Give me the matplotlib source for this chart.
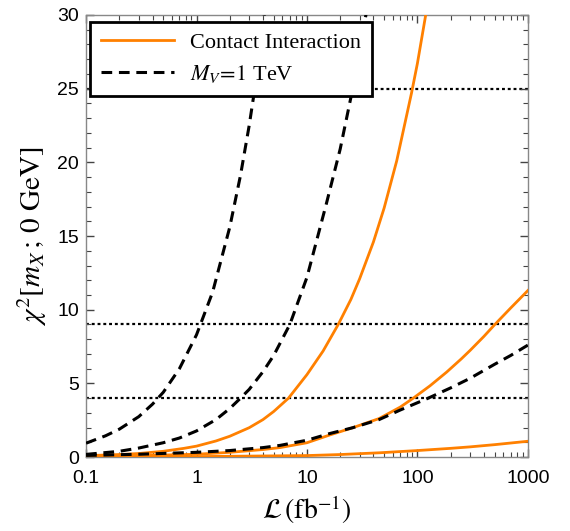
import numpy as np
import matplotlib
matplotlib.use('Agg')
import matplotlib.pyplot as plt
from matplotlib.ticker import MultipleLocator, LogLocator, NullFormatter

plt.rcParams['mathtext.fontset'] = 'stix'
plt.rcParams['font.family'] = ['Liberation Serif', 'DejaVu Serif']

# values
# contact interaction (orange, solid)
ci_hi_L = [0.1, 0.2, 0.3, 0.5, 0.77, 1.0, 1.5, 2.0, 3.0, 4.0, 5.0, 6.8, 10.0, 14.0,
           19.2, 25.0, 30.0, 40.0, 50.0, 65.0, 88.5, 100.0, 119.0]
ci_hi_chi = [0.1, 0.18, 0.25, 0.4, 0.6, 0.75, 1.1, 1.42, 2.0, 2.55, 3.1, 4.0, 5.6, 7.2,
             9.0, 10.7, 12.1, 14.6, 16.9, 20.1, 24.7, 26.7, 30.0]
ci_mid_L = [0.1, 0.3, 1.0, 2.0, 4.0, 5.7, 10.0, 16.0, 26.0, 45.0, 70.0, 91.6,
            130.0, 184.0, 250.0, 300.0, 400.0, 500.0, 700.0, 1000.0]
ci_mid_chi = [0.05, 0.1, 0.2, 0.33, 0.52, 0.65, 0.98, 1.5, 2.0, 2.62, 3.4, 4.0,
              4.84, 5.77, 6.67, 7.24, 8.19, 8.98, 10.12, 11.3]
ci_lo_L = [0.1, 1.0, 10.0, 20.0, 45.8, 100.0, 200.0, 300.0, 500.0, 1000.0]
ci_lo_chi = [0.02, 0.04, 0.11, 0.18, 0.3, 0.45, 0.6, 0.7, 0.85, 1.08]

# M_V = 1 TeV (black, dashed)
mv_a_L = [0.1, 0.15, 0.2, 0.3, 0.4, 0.5, 0.7, 1.0, 1.4, 2.0, 2.5, 3.0, 3.5, 4.1]
mv_a_chi = [0.95, 1.45, 1.9, 2.75, 3.6, 4.4, 6.0, 8.3, 11.2, 15.6, 19.1, 22.5, 25.8, 30.0]
mv_b_L = [0.1, 0.2, 0.3, 0.5, 0.7, 1.0, 1.5, 2.0, 2.5, 3.0, 4.0, 5.0, 7.0, 10.0,
          15.0, 20.0, 25.0, 30.0, 34.2]
mv_b_chi = [0.19, 0.4, 0.62, 0.98, 1.3, 1.78, 2.55, 3.3, 4.0, 4.6, 5.8, 6.9, 9.0, 12.2,
            17.2, 20.9, 24.4, 27.5, 30.0]
mv_c_L = [0.1, 0.3, 1.0, 2.0, 4.0, 5.7, 10.0, 16.0, 26.0, 45.0, 70.0, 125.0,
          200.0, 300.0, 500.0, 700.0, 1000.0]
mv_c_chi = [0.12, 0.2, 0.33, 0.45, 0.65, 0.8, 1.15, 1.6, 2.0, 2.55, 3.2, 4.0,
            4.7, 5.35, 6.3, 6.9, 7.6]

levels = [4, 9, 25]

orange = '#ff8000'
dash = (0, (3.5, 2.2))

fig = plt.figure(figsize=(5.7, 5.31), dpi=100)
ax = fig.add_axes([0.151, 0.139, 0.775, 0.833])

for lv in levels:
    ax.axhline(lv, color='black', lw=1.6, ls=(0, (1.3, 1.3)), zorder=1)

ax.plot(ci_hi_L, ci_hi_chi, color=orange, lw=2.0, label='Contact Interaction', zorder=3)
ax.plot(ci_mid_L, ci_mid_chi, color=orange, lw=2.0, zorder=3)
ax.plot(ci_lo_L, ci_lo_chi, color=orange, lw=2.0, zorder=3)

ax.plot(mv_a_L, mv_a_chi, color='black', lw=2.2, ls=dash, label=r'$M_V\!=\!1$ TeV', zorder=4)
ax.plot(mv_b_L, mv_b_chi, color='black', lw=2.2, ls=dash, zorder=4)
ax.plot(mv_c_L, mv_c_chi, color='black', lw=2.2, ls=dash, zorder=4)

ax.set_xscale('log')
ax.set_xlim(0.1, 1000)
ax.set_ylim(0, 30)

ax.set_xticks([0.1, 1, 10, 100, 1000])
ax.set_xticklabels(['0.1', '1', '10', '100', '1000'])
ax.xaxis.set_minor_locator(LogLocator(base=10, subs=np.arange(2, 10)))
ax.xaxis.set_minor_formatter(NullFormatter())
ax.yaxis.set_major_locator(MultipleLocator(5))
ax.yaxis.set_minor_locator(MultipleLocator(1))

for lab in ax.get_xticklabels() + ax.get_yticklabels():
    lab.set_family('Liberation Sans')
    lab.set_fontsize(14)

ax.tick_params(which='both', direction='in', top=True, right=True, color='#444444')
ax.tick_params(which='major', length=6, width=1)
ax.tick_params(which='minor', length=3.5, width=0.8)
ax.tick_params(axis='x', pad=9)
ax.tick_params(axis='y', pad=5)
for sp in ax.spines.values():
    sp.set_color('#888888')
    sp.set_linewidth(1)

ax.set_xlabel(r'$\mathcal{L}\,(\mathrm{fb}^{-1})$', fontsize=20, labelpad=5)
ax.set_ylabel(r'$\chi^2[m_X\,;\,0\ \mathrm{GeV}]$', fontsize=21, labelpad=6)

leg = ax.legend(loc='upper left', bbox_to_anchor=(0.008, 0.985), fontsize=16,
                fancybox=False, framealpha=1, edgecolor='black',
                handlelength=3.3, handletextpad=0.7, borderpad=0.5,
                labelspacing=0.45, borderaxespad=0)
leg.get_frame().set_linewidth(2)
leg.set_zorder(10)

fig.savefig('out.png', dpi=100)
